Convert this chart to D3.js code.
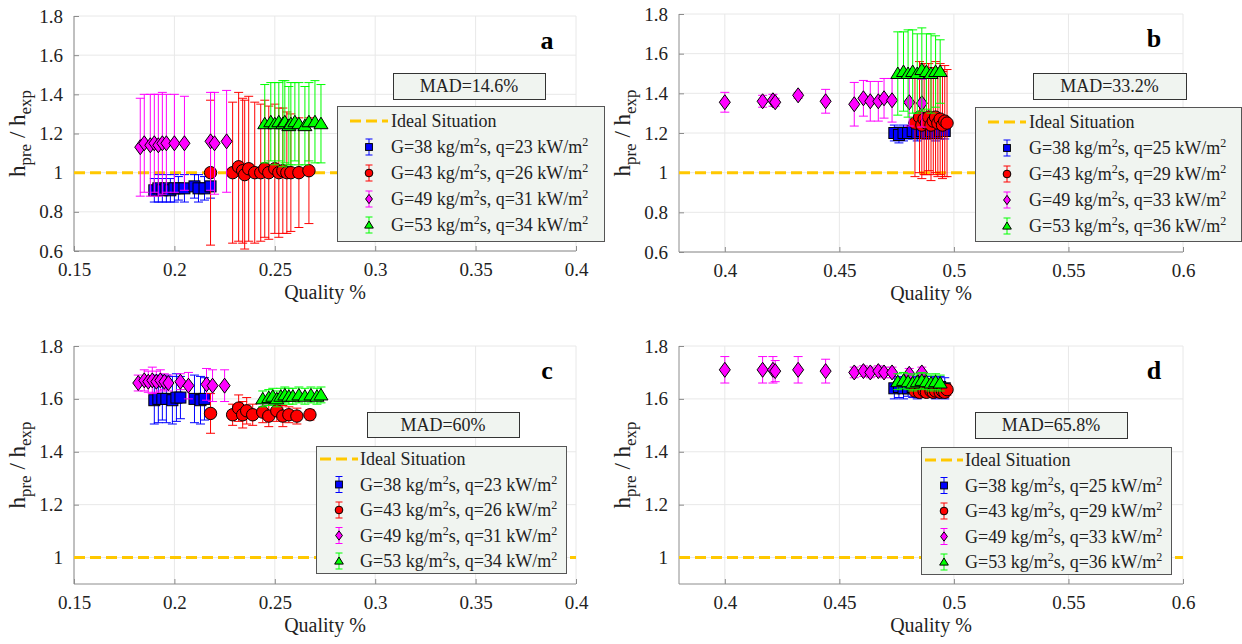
<!DOCTYPE html>
<html>
<head>
<meta charset="utf-8">
<script src="https://cdn.jsdelivr.net/npm/d3@7/dist/d3.min.js"></script>
<style>
  body { margin: 0; background: #fff; }
  svg { display: block; font-family: "Liberation Serif", "Times New Roman", serif; }
</style>
</head>
<body>
<div id="chart"></div>
<script>
// Data: [quality, hpre/hexp, error] per series, per panel
var aBlue = [[0.190,0.91,0.06],[0.192,0.92,0.07],[0.194,0.91,0.06],[0.196,0.92,0.07],[0.198,0.91,0.06],[0.200,0.92,0.07],[0.202,0.92,0.06],[0.205,0.92,0.07],[0.210,0.93,0.06],[0.212,0.92,0.07],[0.215,0.92,0.06],[0.218,0.93,0.06]];
var aRed = [[0.218,1.00,0.37],[0.229,1.00,0.36],[0.232,1.03,0.38],[0.234,1.01,0.37],[0.235,0.99,0.38],[0.237,1.02,0.37],[0.240,1.00,0.36],[0.243,1.00,0.35],[0.245,1.02,0.35],[0.247,1.00,0.34],[0.250,1.02,0.33],[0.252,1.00,0.33],[0.254,1.01,0.32],[0.256,1.00,0.31],[0.258,1.00,0.30],[0.262,1.00,0.28],[0.267,1.01,0.27]];
var aMag = [[0.183,1.13,0.25],[0.185,1.15,0.25],[0.188,1.14,0.26],[0.190,1.15,0.25],[0.192,1.14,0.26],[0.194,1.15,0.26],[0.196,1.15,0.25],[0.200,1.15,0.25],[0.205,1.15,0.24],[0.218,1.16,0.25],[0.220,1.15,0.26],[0.226,1.16,0.26]];
var aGreen = [[0.245,1.25,0.20],[0.248,1.26,0.20],[0.250,1.25,0.21],[0.252,1.26,0.20],[0.254,1.25,0.22],[0.255,1.26,0.21],[0.257,1.24,0.20],[0.258,1.25,0.21],[0.260,1.26,0.20],[0.262,1.25,0.21],[0.265,1.24,0.20],[0.267,1.26,0.20],[0.270,1.26,0.21],[0.273,1.25,0.20]];

var bBlue = [[0.474,1.20,0.04],[0.476,1.19,0.04],[0.478,1.20,0.04],[0.480,1.20,0.03],[0.482,1.21,0.04],[0.484,1.20,0.04],[0.486,1.21,0.04],[0.488,1.20,0.03],[0.490,1.21,0.04],[0.492,1.20,0.04],[0.494,1.21,0.04],[0.496,1.21,0.04]];
var bRed = [[0.483,1.25,0.27],[0.485,1.28,0.28],[0.486,1.24,0.27],[0.487,1.27,0.28],[0.488,1.25,0.26],[0.489,1.28,0.27],[0.490,1.24,0.28],[0.491,1.26,0.27],[0.492,1.28,0.28],[0.493,1.25,0.27],[0.494,1.27,0.28],[0.495,1.24,0.27],[0.496,1.26,0.28],[0.497,1.25,0.27]];
var bMag = [[0.400,1.355,0.05],[0.4165,1.36,0.03],[0.421,1.365,0.03],[0.422,1.355,0.02],[0.432,1.39,0.015],[0.444,1.36,0.06],[0.4565,1.345,0.11],[0.4605,1.375,0.09],[0.4635,1.36,0.10],[0.467,1.36,0.10],[0.4695,1.375,0.10],[0.473,1.365,0.11],[0.4805,1.355,0.12],[0.486,1.35,0.12]];
var bGreen = [[0.4755,1.50,0.21],[0.478,1.51,0.20],[0.480,1.50,0.22],[0.482,1.51,0.21],[0.484,1.50,0.20],[0.486,1.52,0.21],[0.488,1.51,0.19],[0.490,1.50,0.20],[0.492,1.51,0.18],[0.494,1.51,0.16]];

var cBlue = [[0.190,1.595,0.09],[0.192,1.60,0.09],[0.194,1.60,0.08],[0.196,1.60,0.09],[0.199,1.595,0.09],[0.201,1.605,0.09],[0.203,1.605,0.08],[0.210,1.60,0.09],[0.213,1.595,0.09],[0.215,1.60,0.08]];
var cRed = [[0.218,1.545,0.075],[0.229,1.54,0.04],[0.232,1.565,0.05],[0.234,1.54,0.05],[0.236,1.555,0.05],[0.239,1.54,0.04],[0.244,1.55,0.04],[0.247,1.535,0.04],[0.251,1.555,0.04],[0.254,1.535,0.04],[0.257,1.54,0.03],[0.261,1.535,0.03],[0.2675,1.54,0.02]];
var cMag = [[0.182,1.66,0.03],[0.185,1.67,0.04],[0.187,1.665,0.04],[0.189,1.67,0.05],[0.191,1.665,0.04],[0.193,1.67,0.04],[0.195,1.665,0.03],[0.197,1.66,0.03],[0.203,1.665,0.03],[0.207,1.65,0.05],[0.216,1.655,0.06],[0.219,1.65,0.06],[0.225,1.65,0.06]];
var cGreen = [[0.244,1.60,0.03],[0.247,1.605,0.03],[0.249,1.61,0.03],[0.251,1.60,0.03],[0.253,1.61,0.03],[0.255,1.615,0.03],[0.257,1.61,0.03],[0.259,1.61,0.03],[0.262,1.615,0.03],[0.265,1.61,0.03],[0.268,1.615,0.03],[0.271,1.61,0.03],[0.273,1.615,0.03]];

var dBlue = [[0.474,1.64,0.04],[0.476,1.645,0.04],[0.478,1.64,0.04],[0.480,1.64,0.03],[0.482,1.645,0.04],[0.484,1.64,0.04],[0.486,1.645,0.04],[0.488,1.64,0.03],[0.490,1.645,0.04],[0.492,1.64,0.04],[0.494,1.645,0.04],[0.496,1.64,0.04]];
var dRed = [[0.483,1.63,0.02],[0.485,1.625,0.02],[0.487,1.63,0.02],[0.488,1.625,0.02],[0.490,1.63,0.02],[0.491,1.625,0.02],[0.492,1.63,0.02],[0.494,1.625,0.02],[0.495,1.63,0.02],[0.496,1.625,0.02],[0.497,1.635,0.02]];
var dMag = [[0.400,1.71,0.05],[0.4165,1.71,0.05],[0.421,1.71,0.05],[0.422,1.705,0.04],[0.432,1.71,0.05],[0.444,1.705,0.045],[0.4565,1.70,0.02],[0.4605,1.705,0.02],[0.4635,1.70,0.02],[0.467,1.705,0.02],[0.4695,1.70,0.02],[0.473,1.70,0.02],[0.4805,1.695,0.02],[0.486,1.70,0.02]];
var dGreen = [[0.4755,1.665,0.03],[0.478,1.67,0.03],[0.480,1.665,0.03],[0.482,1.66,0.03],[0.484,1.665,0.03],[0.486,1.67,0.03],[0.488,1.665,0.03],[0.490,1.66,0.03],[0.492,1.665,0.03],[0.494,1.66,0.03]];

// Tick labels / text
var xTicksLeft = [0.15, 0.2, 0.25, 0.3, 0.35, 0.4];
var xTicksRight = [0.4, 0.45, 0.5, 0.55, 0.6];
var yTicksTop = [0.6, 0.8, 1, 1.2, 1.4, 1.6, 1.8];
var yTicksBottom = [1, 1.2, 1.4, 1.6, 1.8];
var madLabels = ["MAD=14.6%", "MAD=33.2%", "MAD=60%", "MAD=65.8%"];
var panelLetters = ["a", "b", "c", "d"];
var legendLeft = [["38","23"],["43","26"],["49","31"],["53","34"]];
var legendRight = [["38","25"],["43","29"],["49","33"],["53","36"]];

var colors = ["#0000ff", "#ff0000", "#ff00ff", "#00ff00"];
var shapes = ["square", "circle", "diamond", "triangle"];
var gold = "#ffc800";

// Layout
var panels = [
  {x0:74, x1:576, y0:16, y1:251, xDom:[0.15,0.4], yDom:[0.6,1.8], xT:xTicksLeft, yT:yTicksTop,
   series:[aBlue,aRed,aMag,aGreen], leg:legendLeft, mad:[393,73,152,26], lg:[337,106,267,135,54,13]},
  {x0:679, x1:1183, y0:14, y1:252, xDom:[0.38,0.6], yDom:[0.6,1.8], xT:xTicksRight, yT:yTicksTop,
   series:[bBlue,bRed,bMag,bGreen], leg:legendRight, mad:[1033,73,153,26], lg:[975,107,266,134,54,13]},
  {x0:74, x1:576, y0:346, y1:584, xDom:[0.15,0.4], yDom:[0.9,1.8], xT:xTicksLeft, yT:yTicksBottom,
   series:[cBlue,cRed,cMag,cGreen], leg:legendLeft, mad:[367,412,152,25], lg:[316,446,250,127,44,4]},
  {x0:679, x1:1183, y0:346, y1:584, xDom:[0.38,0.6], yDom:[0.9,1.8], xT:xTicksRight, yT:yTicksBottom,
   series:[dBlue,dRed,dMag,dGreen], leg:legendRight, mad:[975,412,152,26], lg:[921,447,250,127,44,4]}
];

var svg = d3.select("#chart").append("svg").attr("width", 1242).attr("height", 644);

function marker(sel, shape, color, s) {
  // s = scale factor (1 for plot, smaller for legend)
  if (shape === "square") {
    sel.append("rect").attr("x", -5.5*s).attr("y", -5.5*s).attr("width", 11*s).attr("height", 11*s)
      .attr("fill", color).attr("stroke", "#000").attr("stroke-width", 1);
  } else if (shape === "circle") {
    sel.append("circle").attr("r", 6.2*s).attr("fill", color).attr("stroke", "#000").attr("stroke-width", 1);
  } else if (shape === "diamond") {
    sel.append("path").attr("d", "M0," + (-7.5*s) + "L" + (5.5*s) + ",0L0," + (7.5*s) + "L" + (-5.5*s) + ",0Z")
      .attr("fill", color).attr("stroke", "#000").attr("stroke-width", 1);
  } else {
    sel.append("path").attr("d", "M0," + (-6.5*s) + "L" + (7*s) + "," + (5*s) + "L" + (-7*s) + "," + (5*s) + "Z")
      .attr("fill", color).attr("stroke", "#000").attr("stroke-width", 1);
  }
}

function addLegendText(t, g, q) {
  t.append("tspan").text("G=" + g + " kg/m");
  t.append("tspan").attr("dy", -7).attr("font-size", 12).text("2");
  t.append("tspan").attr("dy", 7).text("s, q=" + q + " kW/m");
  t.append("tspan").attr("dy", -7).attr("font-size", 12).text("2");
}

panels.forEach(function(p, pi) {
  var x = d3.scaleLinear().domain(p.xDom).range([p.x0, p.x1]);
  var y = d3.scaleLinear().domain(p.yDom).range([p.y1, p.y0]);
  var g = svg.append("g");

  // grid
  g.selectAll(".gx").data(p.xT).enter().append("line")
    .attr("x1", function(d){ return x(d); }).attr("x2", function(d){ return x(d); })
    .attr("y1", p.y0).attr("y2", p.y1).attr("stroke", "#e8e8e8").attr("stroke-width", 1);
  g.selectAll(".gy").data(p.yT).enter().append("line")
    .attr("x1", p.x0).attr("x2", p.x1)
    .attr("y1", function(d){ return y(d); }).attr("y2", function(d){ return y(d); })
    .attr("stroke", "#e8e8e8").attr("stroke-width", 1);

  // axes
  var xAxis = d3.axisBottom(x).tickValues(p.xT).tickSizeInner(-5).tickSizeOuter(0).tickPadding(12)
    .tickFormat(function(d){ return d3.format("")(+d.toFixed(2)); });
  var yAxis = d3.axisLeft(y).tickValues(p.yT).tickSizeInner(-5).tickSizeOuter(0).tickPadding(11)
    .tickFormat(function(d){ return d3.format("")(+d.toFixed(1)); });
  var xg = g.append("g").attr("transform", "translate(0," + p.y1 + ")").call(xAxis);
  var yg = g.append("g").attr("transform", "translate(" + p.x0 + ",0)").call(yAxis);
  [xg, yg].forEach(function(a) {
    a.select(".domain").attr("stroke", "#8c8c8c");
    a.selectAll(".tick line").attr("stroke", "#8c8c8c");
    a.selectAll("text").attr("font-family", "Liberation Serif").attr("font-size", 19).attr("fill", "#222");
  });
  xg.select(".domain").attr("d", "M" + p.x0 + ",0H" + p.x1);
  yg.select(".domain").attr("d", "M0," + p.y1 + "V" + p.y0);

  // ideal line
  g.append("line").attr("x1", x(p.xDom[0])).attr("x2", x(p.xDom[1]))
    .attr("y1", y(1)).attr("y2", y(1))
    .attr("stroke", gold).attr("stroke-width", 3).attr("stroke-dasharray", "11,5");

  // series
  p.series.forEach(function(data, si) {
    var sg = g.append("g");
    var eb = sg.selectAll(".eb").data(data).enter().append("g");
    eb.append("line").attr("x1", function(d){ return x(d[0]); }).attr("x2", function(d){ return x(d[0]); })
      .attr("y1", function(d){ return y(d[1] - d[2]); }).attr("y2", function(d){ return y(d[1] + d[2]); })
      .attr("stroke", colors[si]).attr("stroke-width", 1);
    eb.append("line").attr("x1", function(d){ return x(d[0]) - 4.5; }).attr("x2", function(d){ return x(d[0]) + 4.5; })
      .attr("y1", function(d){ return y(d[1] + d[2]); }).attr("y2", function(d){ return y(d[1] + d[2]); })
      .attr("stroke", colors[si]).attr("stroke-width", 1);
    eb.append("line").attr("x1", function(d){ return x(d[0]) - 4.5; }).attr("x2", function(d){ return x(d[0]) + 4.5; })
      .attr("y1", function(d){ return y(d[1] - d[2]); }).attr("y2", function(d){ return y(d[1] - d[2]); })
      .attr("stroke", colors[si]).attr("stroke-width", 1);
    sg.selectAll(".mk").data(data).enter().append("g")
      .attr("transform", function(d){ return "translate(" + x(d[0]) + "," + y(d[1]) + ")"; })
      .each(function(){ marker(d3.select(this), shapes[si], colors[si], 1); });
  });

  // axis labels
  svg.append("text").attr("x", (p.x0 + p.x1) / 2).attr("y", p.y1 + 48)
    .attr("text-anchor", "middle").attr("font-size", 20).attr("fill", "#222").text("Quality %");
  var yl = svg.append("text").attr("transform", "translate(" + (p.x0 - 49) + "," + ((p.y0 + p.y1) / 2) + ") rotate(-90)")
    .attr("text-anchor", "middle").attr("font-size", 23).attr("fill", "#222");
  yl.append("tspan").text("h");
  yl.append("tspan").attr("dy", 6).attr("font-size", 17).text("pre");
  yl.append("tspan").attr("dy", -6).text(" / h");
  yl.append("tspan").attr("dy", 6).attr("font-size", 17).text("exp");

  // panel letter
  svg.append("text").attr("x", p.x1 - 29).attr("y", p.y0 + 33).attr("text-anchor", "middle")
    .attr("font-size", 26).attr("font-weight", "bold").attr("fill", "#000").text(panelLetters[pi]);

  // MAD box
  svg.append("rect").attr("x", p.mad[0] + 0.5).attr("y", p.mad[1] + 0.5).attr("width", p.mad[2]).attr("height", p.mad[3])
    .attr("fill", "#f0f4f0").attr("stroke", "#333").attr("stroke-width", 1);
  svg.append("text").attr("x", p.mad[0] + p.mad[2] / 2).attr("y", p.mad[1] + p.mad[3] / 2 + 6)
    .attr("text-anchor", "middle").attr("font-size", 18).attr("fill", "#222").text(madLabels[pi]);

  // legend
  var L = p.lg;
  var lg = svg.append("g").attr("transform", "translate(" + L[0] + "," + L[1] + ")");
  lg.append("rect").attr("x", 0.5).attr("y", 0.5).attr("width", L[2]).attr("height", L[3])
    .attr("fill", "#f0f4f0").attr("stroke", "#555").attr("stroke-width", 1);
  var rowY = function(i){ return L[5] === 13 ? 15 + i * 26 : 13 + i * 25.5; };
  var ds = L[5] === 13 ? 13 : 4;
  lg.append("line").attr("x1", ds).attr("x2", ds + 38).attr("y1", rowY(0)).attr("y2", rowY(0))
    .attr("stroke", gold).attr("stroke-width", 3).attr("stroke-dasharray", "11,5");
  lg.append("text").attr("x", L[4]).attr("y", rowY(0) + 6).attr("font-size", 18).attr("fill", "#222").text("Ideal Situation");
  var sx = ds + 19;
  colors.forEach(function(c, si) {
    var cy = rowY(si + 1);
    lg.append("line").attr("x1", sx).attr("x2", sx).attr("y1", cy - 8).attr("y2", cy + 8).attr("stroke", c);
    lg.append("line").attr("x1", sx - 3.5).attr("x2", sx + 3.5).attr("y1", cy - 8).attr("y2", cy - 8).attr("stroke", c);
    lg.append("line").attr("x1", sx - 3.5).attr("x2", sx + 3.5).attr("y1", cy + 8).attr("y2", cy + 8).attr("stroke", c);
    var mg = lg.append("g").attr("transform", "translate(" + sx + "," + cy + ")");
    marker(mg, shapes[si], c, 0.62);
    var t = lg.append("text").attr("x", L[4]).attr("y", cy + 6).attr("font-size", 18).attr("fill", "#222");
    addLegendText(t, p.leg[si][0], p.leg[si][1]);
  });
});
</script>
</body>
</html>
